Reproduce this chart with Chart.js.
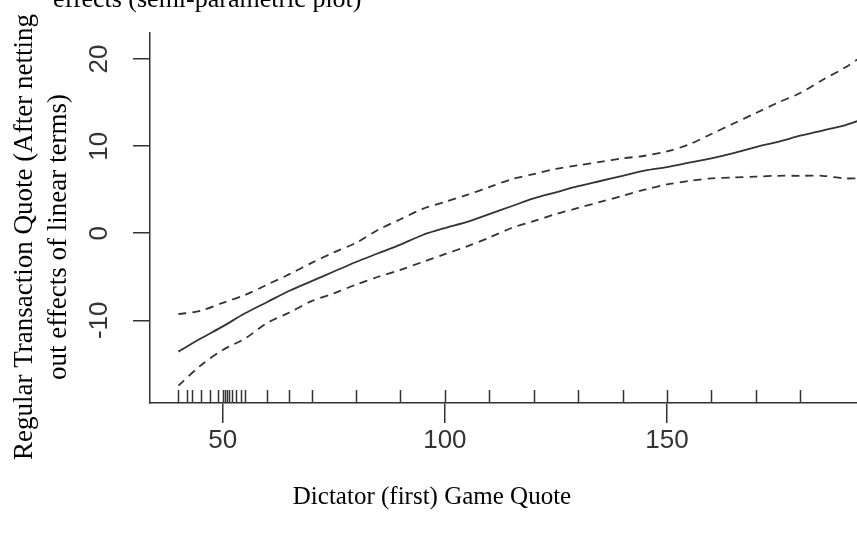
<!DOCTYPE html>
<html>
<head>
<meta charset="utf-8">
<script src="https://cdn.jsdelivr.net/npm/chart.js@4.4.1/dist/chart.umd.min.js"></script>
<style>
  html, body { margin: 0; padding: 0; background: #fff; }
  #wrap { width: 857px; height: 535px; position: relative; }
</style>
</head>
<body>
<div id="wrap"><canvas id="gamChart" width="857" height="535"></canvas></div>
<script>
// dictator quote grid and the smooth term with its +/- 2 se band
const quotes = [40, 45, 50, 55, 60, 65, 70, 75, 80, 85, 90, 95, 100, 105, 110, 115, 120,
    125, 130, 135, 140, 145, 150, 155, 160, 165, 170, 175, 180, 185, 190, 193];
const fitValues = [-13.6, -12.1, -10.7, -9.2, -7.9, -6.6, -5.5, -4.4, -3.3, -2.3, -1.3, -0.2, 0.6, 1.3, 2.2, 3.1, 4.0,
    4.7, 5.4, 6.0, 6.6, 7.2, 7.6, 8.1, 8.6, 9.2, 9.9, 10.5, 11.2, 11.8, 12.4, 12.9];
const upperValues = [-9.3, -8.9, -8.0, -7.1, -5.9, -4.7, -3.4, -2.2, -1.1, 0.4, 1.6, 2.8, 3.6, 4.4, 5.3, 6.2, 6.8,
    7.4, 7.8, 8.2, 8.6, 8.9, 9.4, 10.2, 11.4, 12.6, 13.8, 15.0, 16.1, 17.6, 19.0, 20.0];
const lowerValues = [-17.5, -15.2, -13.4, -12.1, -10.3, -9.1, -7.8, -6.9, -5.9, -5.0, -4.2, -3.3, -2.4, -1.5, -0.5, 0.6, 1.4,
    2.2, 2.9, 3.6, 4.3, 5.0, 5.6, 6.0, 6.3, 6.4, 6.5, 6.6, 6.6, 6.6, 6.3, 6.3];

// observed quotes shown as rug marks
const rugQuotes = [40, 42, 43, 45, 47, 49, 50, 50.5, 51, 51.5, 52, 53, 54, 55, 60, 65, 70, 80, 90,
    100, 110, 120, 130, 140, 150, 160, 170, 180];

const xTicks = [50, 100, 150];
const yTicks = [-10, 0, 10, 20];

const topText = 'effects (semi-parametric plot)';
const yTitleLines = ['Regular Transaction Quote (After netting', 'out effects of linear terms)'];
const xTitle = 'Dictator (first) Game Quote';

const ink = '#333';
const tickFont = 'Arial, "Liberation Sans", sans-serif';
const titleFont = '"Liberation Serif", "Times New Roman", serif';

const toPoints = vals => quotes.map((q, i) => ({ x: q, y: vals[i] }));

const extrasPlugin = {
    id: 'extras',
    afterDatasetsDraw(chart) {
        const ctx = chart.ctx;
        const xs = chart.scales.x;
        const bottom = chart.chartArea.bottom;

        // rug
        ctx.save();
        ctx.strokeStyle = ink;
        ctx.lineWidth = 1.5;
        rugQuotes.forEach(q => {
            const px = Math.round(xs.getPixelForValue(q)) + 0.5;
            ctx.beginPath();
            ctx.moveTo(px, bottom);
            ctx.lineTo(px, bottom - 13);
            ctx.stroke();
        });
        ctx.restore();
    },
    afterDraw(chart) {
        const ctx = chart.ctx;
        const ys = chart.scales.y;

        // y tick labels, parallel to the axis
        ctx.save();
        ctx.fillStyle = ink;
        ctx.font = '26px ' + tickFont;
        ctx.textAlign = 'center';
        ctx.textBaseline = 'middle';
        yTicks.forEach(v => {
            ctx.save();
            ctx.translate(100, ys.getPixelForValue(v));
            ctx.rotate(-Math.PI / 2);
            ctx.fillText(String(v), 0, 0);
            ctx.restore();
        });

        // titles
        ctx.fillStyle = '#000';
        ctx.font = '26px ' + titleFont;
        ctx.textAlign = 'left';
        ctx.textBaseline = 'alphabetic';
        ctx.fillText(topText, 53, 7);

        ctx.textAlign = 'center';
        ctx.textBaseline = 'middle';
        ctx.font = '25px ' + titleFont;
        ctx.fillText(xTitle, 432, 497);

        ctx.font = '27px ' + titleFont;
        [25, 59].forEach((cx, i) => {
            ctx.save();
            ctx.translate(cx, 237);
            ctx.rotate(-Math.PI / 2);
            ctx.fillText(yTitleLines[i], 0, 0);
            ctx.restore();
        });
        ctx.restore();
    }
};

const lineStyle = (label, vals, dashed) => ({
    label: label,
    data: toPoints(vals),
    borderColor: ink,
    borderWidth: 1.8,
    borderDash: dashed ? [8, 6] : [],
    pointRadius: 0,
    tension: 0.3,
    fill: false
});

new Chart(document.getElementById('gamChart'), {
    type: 'line',
    data: {
        datasets: [
            lineStyle('fit', fitValues, false),
            lineStyle('upper', upperValues, true),
            lineStyle('lower', lowerValues, true)
        ]
    },
    options: {
        responsive: false,
        animation: false,
        layout: { padding: { top: 33, right: 0, left: 0, bottom: 0 } },
        plugins: {
            legend: { display: false },
            tooltip: { enabled: false }
        },
        scales: {
            x: {
                type: 'linear',
                min: 33.6,
                max: 192.8,
                afterFit: s => { s.height = 132; },
                afterBuildTicks: s => { s.ticks = xTicks.map(v => ({ value: v })); },
                border: { display: true, color: ink, width: 1.5 },
                grid: { drawOnChartArea: false, drawTicks: true, tickLength: 20, color: ink, lineWidth: 1.5 },
                ticks: {
                    color: ink,
                    font: { family: tickFont, size: 26 },
                    padding: 2,
                    maxRotation: 0
                }
            },
            y: {
                type: 'linear',
                min: -19.5,
                max: 23,
                afterFit: s => { s.width = 150; },
                afterBuildTicks: s => { s.ticks = yTicks.map(v => ({ value: v })); },
                border: { display: true, color: ink, width: 1.5 },
                grid: { drawOnChartArea: false, drawTicks: true, tickLength: 17, color: ink, lineWidth: 1.5 },
                ticks: { display: false }
            }
        }
    },
    plugins: [extrasPlugin]
});
</script>
</body>
</html>
